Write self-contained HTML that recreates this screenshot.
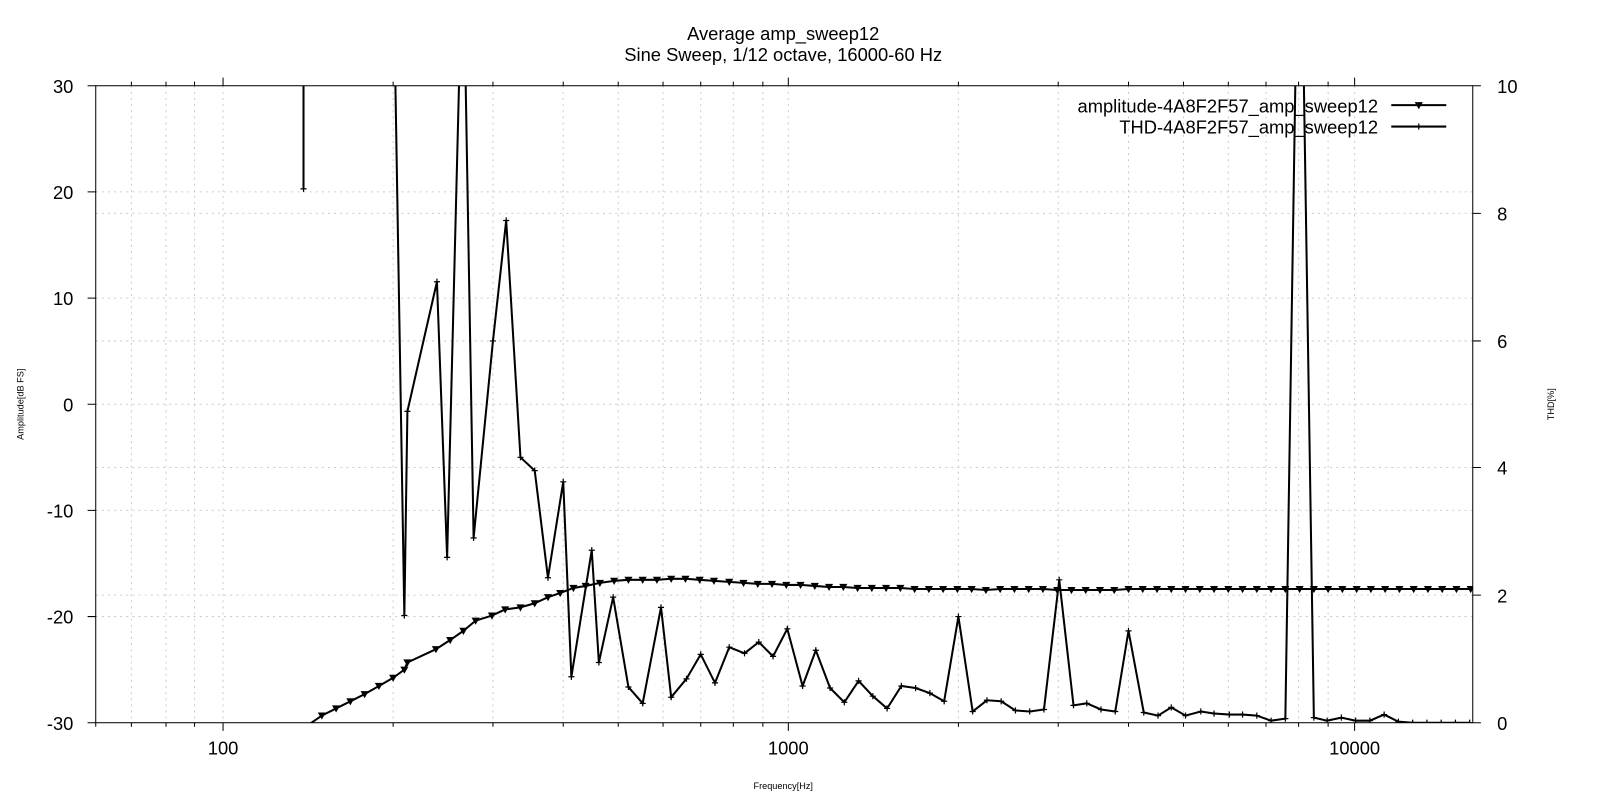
<!DOCTYPE html>
<html><head><style>body{margin:0;background:#fff}svg{display:block;font-family:"Liberation Sans",sans-serif}</style></head>
<body>
<svg width="1600" height="800" viewBox="0 0 1600 800" xmlns="http://www.w3.org/2000/svg">
<defs>
<marker id="tri" viewBox="-5 -5 10 10" markerWidth="10" markerHeight="10" markerUnits="userSpaceOnUse"><path d="M-4,-3 L4,-3 L0,4 Z" fill="#000"/></marker>
<marker id="plus" viewBox="-4 -4 8 8" markerWidth="8" markerHeight="8" markerUnits="userSpaceOnUse"><path d="M-3,0 H3 M0,-3 V3" stroke="#000" stroke-width="1.2"/></marker>
<clipPath id="c"><rect x="94" y="84" width="1352" height="624"/></clipPath>
</defs>
<g transform="scale(1.0185,1.0208)">
<g stroke="#ccc" stroke-width="1" stroke-dasharray="2,4">
<path d="M94,188H1446M94,292H1446M94,396H1446M94,500H1446M94,604H1446"/>
<path d="M94,209H1446M94,334H1446M94,458H1446M94,583H1446"/>
<path d="M129,84V708M163,84V708M191,84V708M219,84V708M386,84V708M484,84V708M553,84V708M607,84V708M651,84V708M688,84V708M720,84V708M749,84V708M774,84V708M941,84V708M1039,84V708M1108,84V708M1162,84V708M1206,84V708M1243,84V708M1275,84V708M1304,84V708M1330,84V708"/>
</g>
<g stroke="#000" stroke-width="1">
<rect x="94" y="84" width="1352" height="624" fill="none"/>
<path d="M94,84h-8M94,188h-8M94,292h-8M94,396h-8M94,500h-8M94,604h-8M94,708h-8M1446,84h8M1446,209h8M1446,334h8M1446,458h8M1446,583h8M1446,708h8"/>
<path d="M219,708v8M774,708v8M1330,708v8M219,84v-8M774,84v-8M1330,84v-8"/>
<path d="M94,708v4M129,708v4M163,708v4M191,708v4M386,708v4M484,708v4M553,708v4M607,708v4M651,708v4M688,708v4M720,708v4M749,708v4M941,708v4M1039,708v4M1108,708v4M1162,708v4M1206,708v4M1243,708v4M1275,708v4M1304,708v4M129,84v-4M163,84v-4M191,84v-4M386,84v-4M484,84v-4M553,84v-4M607,84v-4M651,84v-4M688,84v-4M720,84v-4M749,84v-4M941,84v-4M1039,84v-4M1108,84v-4M1162,84v-4M1206,84v-4M1243,84v-4M1275,84v-4M1304,84v-4"/>
</g>
<g font-size="18" fill="#000" text-anchor="end">
<text x="72" y="91">30</text><text x="72" y="195">20</text><text x="72" y="299">10</text><text x="72" y="403">0</text><text x="72" y="507">-10</text><text x="72" y="611">-20</text><text x="72" y="715">-30</text>
</g>
<g font-size="18" fill="#000" text-anchor="start">
<text x="1470" y="91">10</text><text x="1470" y="216">8</text><text x="1470" y="341">6</text><text x="1470" y="465">4</text><text x="1470" y="590">2</text><text x="1470" y="715">0</text>
</g>
<g font-size="18" fill="#000" text-anchor="middle">
<text x="219" y="739">100</text><text x="774" y="739">1000</text><text x="1330" y="739">10000</text>
<text x="769" y="39">Average amp_sweep12</text><text x="769" y="60">Sine Sweep, 1/12 octave, 16000-60 Hz</text>
</g>
<text x="769" y="773" font-size="9" text-anchor="middle">Frequency[Hz]</text>
<text transform="translate(23,396) rotate(-90)" font-size="9" text-anchor="middle">Amplitude[dB FS]</text>
<text transform="translate(1526,396) rotate(-90)" font-size="9" text-anchor="middle">THD[%]</text>
<g clip-path="url(#c)" fill="none" stroke="#000" stroke-width="2">
<polyline marker-mid="url(#tri)" marker-end="url(#tri)" points="300,712 316,701 330,694 344,687 358,680 372,672 386,664 397,656 400,649 428,636 442,627 455,618 467,608 483,603 496,597 511,595 525,591 538,585 550,581 563,576 575,574 589,571 603,569 617,568 631,568 645,568 659,567 673,567 687,568 701,569 716,570 730,571 744,572 758,572 772,573 786,573 800,574 814,575 828,575 842,576 856,576 870,576 884,576 898,577 912,577 926,577 940,577 954,577 968,578 982,577 996,577 1010,577 1024,577 1038,578 1052,578 1066,578 1080,578 1094,578 1108,577 1122,577 1136,577 1150,577 1164,577 1178,577 1192,577 1206,577 1220,577 1234,577 1248,577 1262,577 1276,577 1290,577 1304,577 1318,577 1332,577 1346,577 1360,577 1374,577 1388,577 1402,577 1416,577 1430,577 1444,577"/>
<polyline marker-end="url(#plus)" points="298,70 298,185"/>
<polyline marker-mid="url(#plus)" marker-end="url(#plus)" points="388,70 397,603 400,403 429,276 439,546 451,70 457,70 465,527 484,334 497,216 511,448 525,461 538,566 553,472 561,663 581,539 588,649 602,585 617,673 631,689 649,595 659,683 674,665 688,641 702,669 716,634 731,640 745,629 759,643 773,616 788,672 801,637 815,674 829,688 843,667 857,682 871,694 885,672 899,674 913,679 927,687 941,604 955,697 969,686 983,687 997,696 1011,697 1025,695 1040,568 1054,691 1067,689 1081,695 1095,697 1108,618 1123,698 1137,701 1150,693 1164,701 1179,697 1192,699 1207,700 1220,700 1234,701 1248,706 1262,704 1272,70 1280,70 1290,703 1303,706 1317,703 1331,706 1345,706 1359,700 1373,707 1387,708 1401,708 1415,708 1429,708 1443,708"/>
</g>
<g font-size="18" text-anchor="end"><text x="1353" y="110">amplitude-4A8F2F57_amp_sweep12</text><text x="1353" y="131">THD-4A8F2F57_amp_sweep12</text></g>
<g stroke="#000" stroke-width="2"><path d="M1366,103H1420M1366,124H1420"/></g>
<path d="M1389,100L1397,100L1393,107Z"/><path d="M1390,124h6M1393,121v6" stroke="#000" stroke-width="1.2"/>
</g>
</svg>
</body></html>
